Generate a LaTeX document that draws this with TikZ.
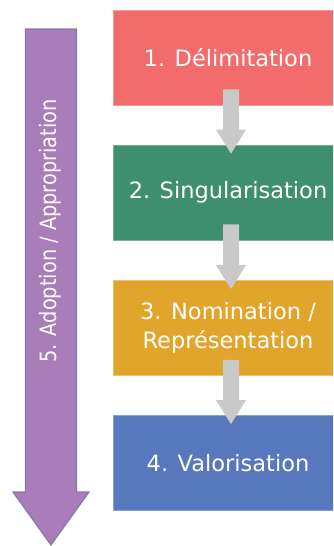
\documentclass[tikz,border=0pt]{standalone}
\usepackage{fontspec}
\setmainfont{DejaVu Sans}
\usetikzlibrary{calc}
\definecolor{cred}{RGB}{243,108,108}
\definecolor{cgreen}{RGB}{61,143,111}
\definecolor{corange}{RGB}{226,165,44}
\definecolor{cblue}{RGB}{87,120,188}
\definecolor{cpurple}{RGB}{168,125,185}
\definecolor{cpurpleb}{RGB}{138,120,168}
\definecolor{cgray}{RGB}{201,201,201}
\tikzset{
  x=1pt,y=1pt,
  stepbox/.style={draw=#1!70!white, line width=0.8pt, fill=#1, minimum width=230pt, minimum height=95pt,
    text=white, font=\fontsize{22.5}{29}\selectfont, align=center, inner sep=0pt},
  grayarrow/.style={fill=cgray, draw=none},
}
\begin{document}
\begin{tikzpicture}
\useasboundingbox (0,0) rectangle (333,-546);
\clip (0,0) rectangle (333,-546);
\node[stepbox=cred] (b1) at (228,-57.5) {1. Délimitation};
\node[stepbox=cgreen] (b2) at (228,-192.5) {2. Singularisation};
\node[stepbox=corange] (b3) at (228,-328) {3. Nomination /\\Représentation};
\node[stepbox=cblue] (b4) at (228,-463) {4. Valorisation};
% gray arrows
\foreach \a/\b in {b1/b2,b2/b3,b3/b4}{
  \coordinate (s) at ($(\a.south)+(3,16)$);
  \coordinate (t) at ($(\b.north)+(3,-9)$);
  \fill[grayarrow] ($(s)+(-8,0)$) -- ($(s)+(8,0)$) -- ($(t)+(8,24)$) -- ($(t)+(15,24)$) -- (t) -- ($(t)+(-15,24)$) -- ($(t)+(-8,24)$) -- cycle;
}
% purple arrow
\coordinate (ptop) at (51,-29);
\coordinate (ptip) at (51,-545);
\draw[fill=cpurple, draw=cpurpleb, line width=1.2pt, line join=miter]
  ($(ptop)+(-25.5,0)$) -- ($(ptop)+(25.5,0)$) -- (76.5,-492) -- (89,-492) -- (ptip) -- (13,-492) -- (25.5,-492) -- cycle;
\node[rotate=90, text=white, font=\fontsize{22.5}{28}\selectfont, inner sep=0pt] (p) at (50,-231) {\scalebox{0.86}[1]{5. Adoption / Appropriation}};
\end{tikzpicture}
\end{document}
